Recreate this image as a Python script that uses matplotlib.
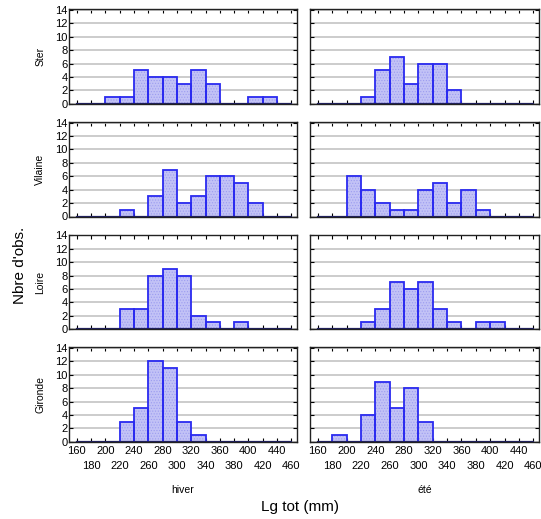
import numpy as np
import matplotlib
matplotlib.use("Agg")
import matplotlib.pyplot as plt

# Bornes des classes (largeur 20 mm)
bin_starts = list(range(160, 460, 20))

rivers = ["Ster", "Vilaine", "Loire", "Gironde"]
seasons = ["hiver", "été"]

# Graduations x : ligne haute et ligne basse
x_ticks_top = [160, 200, 240, 280, 320, 360, 400, 440]
x_ticks_low = [180, 220, 260, 300, 340, 380, 420, 460]

# Effectifs par classe, 160-180 ... 440-460
ster_hiver = [0, 0, 1, 1, 5, 4, 4, 3, 5, 3, 0, 0, 1, 1, 0]
ster_ete = [0, 0, 0, 1, 5, 7, 3, 6, 6, 2, 0, 0, 0, 0, 0]
vilaine_hiver = [0, 0, 0, 1, 0, 3, 7, 2, 3, 6, 6, 5, 2, 0, 0]
vilaine_ete = [0, 0, 6, 4, 2, 1, 1, 4, 5, 2, 4, 1, 0, 0, 0]
loire_hiver = [0, 0, 0, 3, 3, 8, 9, 8, 2, 1, 0, 1, 0, 0, 0]
loire_ete = [0, 0, 0, 1, 3, 7, 6, 7, 3, 1, 0, 1, 1, 0, 0]
gironde_hiver = [0, 0, 0, 3, 5, 12, 11, 3, 1, 0, 0, 0, 0, 0, 0]
gironde_ete = [0, 1, 0, 4, 9, 5, 8, 3, 0, 0, 0, 0, 0, 0, 0]

counts = [
    [ster_hiver, ster_ete],
    [vilaine_hiver, vilaine_ete],
    [loire_hiver, loire_ete],
    [gironde_hiver, gironde_ete],
]

plt.rcParams["font.family"] = ["Liberation Sans", "DejaVu Sans"]
plt.rcParams["hatch.linewidth"] = 0.5

W, H = 541, 519
fig = plt.figure(figsize=(W / 100, H / 100), dpi=100)

col_x = [69, 310]
col_w = [228, 229]
row_top0, row_step, row_h = 9.3, 112.7, 94.5

face = "#c2c2f6"
edge = "#2a2af0"

for i, river in enumerate(rivers):
    for j, season in enumerate(seasons):
        top = row_top0 + row_step * i
        ax = fig.add_axes([col_x[j] / W, 1 - (top + row_h) / H, col_w[j] / W, row_h / H])
        vals = np.array(counts[i][j])
        starts = np.array(bin_starts)
        mask = vals > 0
        ax.bar(starts[mask], vals[mask], width=20, align="edge", color=face,
               edgecolor="#9d9df0", linewidth=0, hatch="......", zorder=2)
        ax.bar(starts[mask], vals[mask], width=20, align="edge", fill=False,
               edgecolor=edge, linewidth=1.3, zorder=3)
        ax.plot([160, 460], [0, 0], color="#20205a", lw=1.6, zorder=4)

        ax.set_xlim(149, 468)
        ax.set_ylim(0, 14.1)
        ax.set_yticks(range(0, 15, 2))
        ax.set_xticks(x_ticks_top)
        ax.set_xticks(x_ticks_low, minor=True)
        ax.grid(axis="y", color="#c4c4c4", lw=1.2, zorder=0)
        ax.tick_params(which="both", direction="in", length=3, width=0.8, top=True,
                       right=True, labelsize=8, pad=1)
        for s in ax.spines.values():
            s.set_color("#222222")
            s.set_linewidth(1.0)

        if j == 0:
            ax.set_ylabel(river, fontsize=7.5, labelpad=7)
        else:
            ax.set_yticklabels([])

        if i == 3:
            ax.set_xticklabels([str(v) for v in x_ticks_top])
            ax.set_xticklabels([str(v) for v in x_ticks_low], minor=True)
            ax.tick_params(axis="x", which="major", pad=3)
            ax.tick_params(axis="x", which="minor", pad=14)
            ax.set_xlabel(season, fontsize=7.5, labelpad=10)
        else:
            ax.set_xticklabels([])

fig.text(300 / W, 1 - 507 / H, "Lg tot (mm)", fontsize=11, ha="center", va="center")
fig.text(20 / W, 1 - 265 / H, "Nbre d'obs.", fontsize=11, ha="center", va="center",
         rotation=90)

fig.savefig("out.png", dpi=100)
